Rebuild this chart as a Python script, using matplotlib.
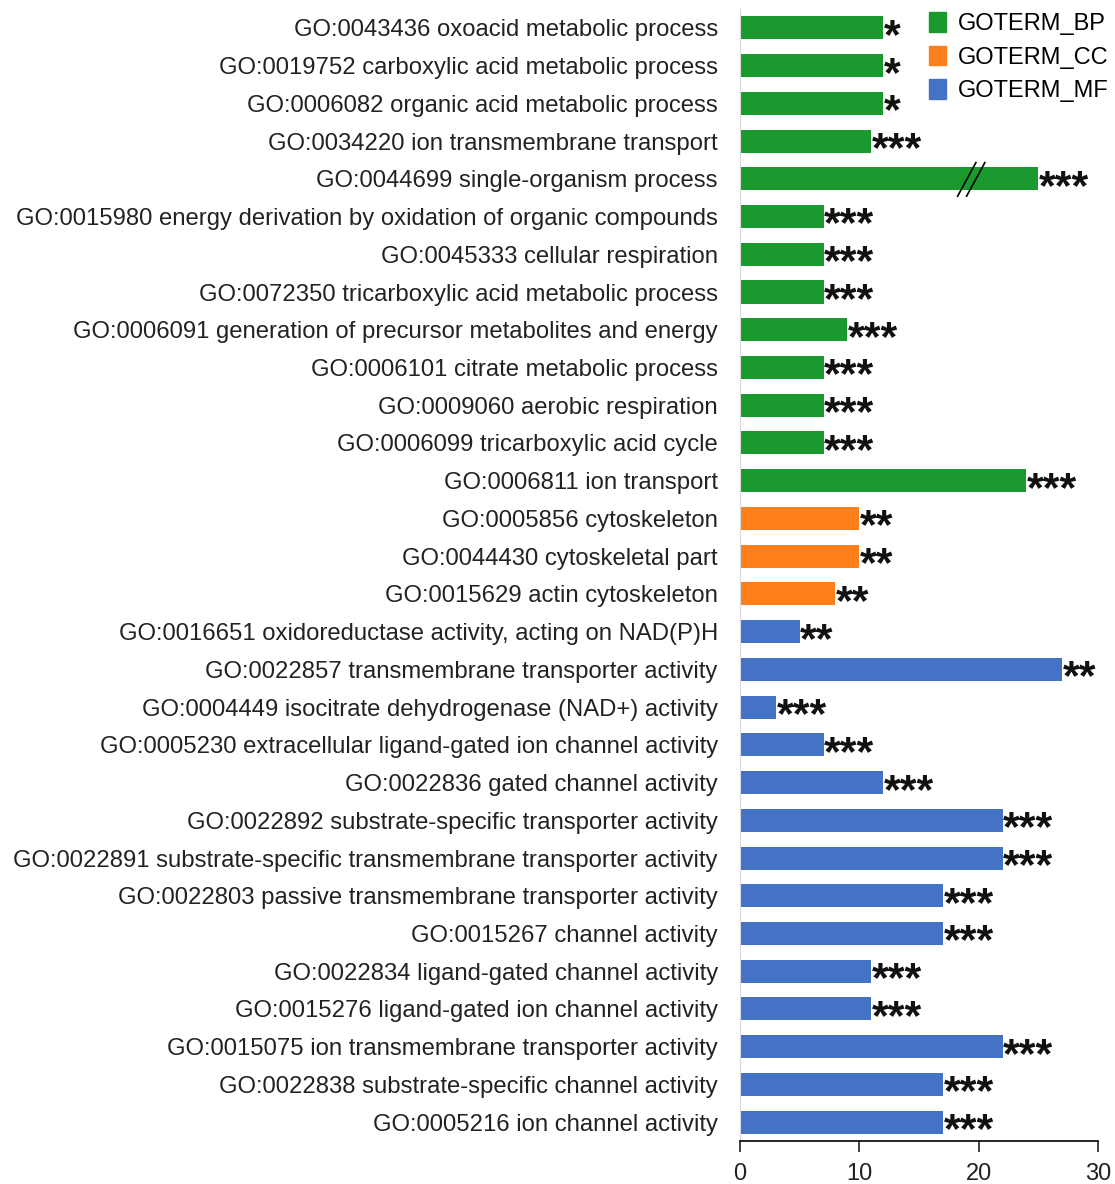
import numpy as np
import matplotlib
matplotlib.use("Agg")
import matplotlib.pyplot as plt
from matplotlib.patches import Patch

plt.rcParams['font.family'] = ['Liberation Sans', 'DejaVu Sans']

terms = [
    "GO:0043436 oxoacid metabolic process",
    "GO:0019752 carboxylic acid metabolic process",
    "GO:0006082 organic acid metabolic process",
    "GO:0034220 ion transmembrane transport",
    "GO:0044699 single-organism process",
    "GO:0015980 energy derivation by oxidation of organic compounds",
    "GO:0045333 cellular respiration",
    "GO:0072350 tricarboxylic acid metabolic process",
    "GO:0006091 generation of precursor metabolites and energy",
    "GO:0006101 citrate metabolic process",
    "GO:0009060 aerobic respiration",
    "GO:0006099 tricarboxylic acid cycle",
    "GO:0006811 ion transport",
    "GO:0005856 cytoskeleton",
    "GO:0044430 cytoskeletal part",
    "GO:0015629 actin cytoskeleton",
    "GO:0016651 oxidoreductase activity, acting on NAD(P)H",
    "GO:0022857 transmembrane transporter activity",
    "GO:0004449 isocitrate dehydrogenase (NAD+) activity",
    "GO:0005230 extracellular ligand-gated ion channel activity",
    "GO:0022836 gated channel activity",
    "GO:0022892 substrate-specific transporter activity",
    "GO:0022891 substrate-specific transmembrane transporter activity",
    "GO:0022803 passive transmembrane transporter activity",
    "GO:0015267 channel activity",
    "GO:0022834 ligand-gated channel activity",
    "GO:0015276 ligand-gated ion channel activity",
    "GO:0015075 ion transmembrane transporter activity",
    "GO:0022838 substrate-specific channel activity",
    "GO:0005216 ion channel activity",
]
counts = [12, 12, 12, 11, 25, 7, 7, 7, 9, 7, 7, 7, 24, 10, 10, 8,
          5, 27, 3, 7, 12, 22, 22, 17, 17, 11, 11, 22, 17, 17]
stars = ["*", "*", "*", "***", "***", "***", "***", "***", "***", "***", "***", "***", "***",
         "**", "**", "**", "**", "**", "***", "***", "***", "***", "***", "***", "***",
         "***", "***", "***", "***", "***"]
category = ["BP"] * 13 + ["CC"] * 3 + ["MF"] * 14
broken = "GO:0044699 single-organism process"
break_at = 19

colors = {"BP": "#1a9a2e", "CC": "#fd7f1c", "MF": "#4472c4"}

fig = plt.figure(figsize=(11.15, 11.84), dpi=100)
ax = fig.add_axes([0.6637, 0.0363, 0.3211, 0.9561])
y = np.arange(len(terms))
ax.barh(y, counts, height=0.61, color=[colors[c] for c in category])
for yi, v, s in zip(y, counts, stars):
    ax.text(v + 0.05, yi + 0.24, s, ha="left", va="center", fontsize=31, fontweight="bold",
            color="#111111")

bi = terms.index(broken)
for dx in (0, 0.75):
    ax.plot([break_at - 0.8 + dx, break_at + 0.8 + dx], [bi + 0.48, bi - 0.45], color="black", lw=1.2,
            solid_capstyle="butt")

ax.set_xlim(0, 30)
ax.set_ylim(len(terms) - 0.5, -0.5)
ax.set_yticks(y)
ax.set_yticklabels(terms, fontsize=17.2, color="#222222")
ax.set_xticks([0, 10, 20, 30])
ax.tick_params(axis="x", labelsize=17, length=8, width=1.2, colors="#222222", pad=8)
ax.tick_params(axis="y", length=0, pad=16)
for sp in ("top", "right"):
    ax.spines[sp].set_visible(False)
ax.spines["left"].set_color("#d9d9d9")
ax.spines["bottom"].set_linewidth(1.2)

handles = [Patch(color=colors[k], label="GOTERM_" + k) for k in ("BP", "CC", "MF")]
ax.legend(handles=handles, loc="upper right", bbox_to_anchor=(1.09, 1.016), frameon=False,
          fontsize=17, handlelength=0.75, handleheight=0.9, handletextpad=0.5, labelspacing=0.45)

fig.savefig("out.png", dpi=100)
